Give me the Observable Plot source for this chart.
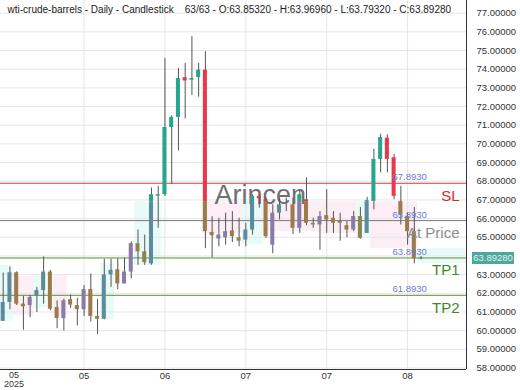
<!DOCTYPE html>
<html><head><meta charset="utf-8">
<script src="https://cdn.jsdelivr.net/npm/d3@7"></script>
<script src="https://cdn.jsdelivr.net/npm/@observablehq/plot@0.6"></script>
<style>
html,body{margin:0;padding:0;background:#fff;}
#chart{width:520px;height:390px;overflow:hidden;}
</style></head><body><div id="chart"></div>
<script>
// ---- data ----
const opens  = [60.50,61.51,63.10,61.42,61.34,61.88,62.15,63.14,61.24,60.65,61.66,61.34,61.12,62.20,60.76,60.61,62.99,63.26,62.50,63.14,64.66,64.22,63.58,67.20,67.28,70.88,71.42,73.55,73.41,73.55,73.95,65.26,64.90,64.97,65.34,64.97,64.85,65.39,67.19,67.01,64.58,66.29,66.80,66.74,65.48,67.01,65.75,65.66,66.16,66.02,65.84,65.62,65.39,66.11,65.21,66.92,69.17,70.31,69.26,66.92,66.11,65.30,63.8532];
const highs  = [63.08,63.41,63.15,61.84,61.88,62.32,63.95,63.23,61.60,61.69,61.91,61.73,62.42,63.04,61.66,63.82,63.82,63.85,63.89,64.75,65.39,65.12,67.64,67.73,74.58,71.51,74.04,74.31,75.75,74.31,74.94,66.10,66.02,66.29,66.38,66.02,65.75,67.28,67.28,67.10,66.74,67.10,67.10,67.10,67.46,68.18,66.02,66.38,67.55,66.38,66.29,65.84,66.38,66.59,67.14,69.71,70.52,70.49,69.44,67.73,66.29,66.59,63.9696];
const lows   = [60.49,61.12,61.35,60.02,60.70,60.97,61.42,61.07,60.11,59.98,61.19,60.25,60.76,60.47,59.80,60.58,62.32,62.20,62.50,62.77,63.50,63.50,63.50,65.48,67.19,67.82,69.62,71.34,72.59,72.50,64.39,63.90,64.49,64.58,64.72,64.49,64.49,65.12,66.56,64.94,64.12,65.93,66.38,65.15,65.21,65.62,65.48,64.31,65.21,65.21,64.79,64.97,65.30,64.90,65.21,66.47,68.45,68.45,67.01,65.66,64.58,63.58,63.7932];
const closes = [61.51,63.10,61.42,61.28,61.78,62.15,63.14,61.15,60.65,61.60,61.37,61.12,62.20,60.76,60.61,62.99,63.23,62.50,63.14,64.66,64.22,63.64,67.28,67.28,70.88,71.42,73.50,73.37,73.50,73.95,65.30,65.08,65.12,65.30,65.03,64.79,65.39,67.19,67.06,65.03,66.29,66.74,66.85,65.48,67.28,65.75,65.66,66.11,65.93,65.75,65.75,65.39,66.11,64.94,66.96,69.17,70.34,69.17,67.19,66.20,65.30,63.85,63.8928];
// zone tint under each bar: c = cyan zone, p = pink zone
const tones = "cc"+"ppp"+"cc"+"ppppppp"+"ccc"+"ppp"+"cccccccccc"+"ppppp"+"cccc"+"pp"+"cc"+"ppp"+"c"+"pppppp"+"cccccc"+"ppp"+"c";

// background zones (bar-index edges, price top/bottom, kind)
const zoneFrom   = [-0.5, 1.5, 4.5, 7.5, 14.5, 19.5, 29.5, 35.5, 38.5, 47.5, 52.5, 54.5, 61.5];
const zoneTo     = [ 1.5, 4.5, 6.5, 9.5, 16.5, 23.5, 35.5, 38.5, 47.5, 52.5, 54.5, 61.5, 68.7];
const zoneTop    = [63.5, 62.9,63.0, 63.0, 63.6, 66.9, 66.9, 66.9, 66.9, 66.9, 66.9, 66.9, 64.4];
const zoneBottom = [60.5, 60.8,61.2, 60.8, 60.6, 63.5, 65.2, 64.6, 65.3, 65.2, 65.0, 64.4, 63.6];
const zoneKind   = ["c","p","c","p","c","c","p","c","p","p","c","p","c"];

const xTickBars   = [0, 12, 24, 36, 48, 60];
const xTickLabels = ["05", "05", "06", "07", "07", "08"];
const yearLabel   = "2025";
const yTicks      = d3.range(58, 79);

const levelValues = [67.893, 65.893, 63.893, 61.893];
const levelNames  = ["SL", "At Price", "TP1", "TP2"];
const levelKinds  = ["sl", "price", "tp", "tp"];

const symbolName = "wti-crude-barrels";
const titleText = symbolName + " - Daily - Candlestick\u00a0\u00a0\u00a0 63/63 - O:63.85320 - H:63.96960 - L:63.79320 - C:63.89280";
const watermark = "Arincen";
const tintLevel = 66.9;

// ---- layout / styles ----
const xDomain = [-0.4, 68.74];
const yDomain = [57.92, 77.68];
const col = {
  up: "#26a68c", down: "#e8394a",
  upc: "#5d8b9c", upp: "#8a7aa6", downc: "#8a8450", downp: "#9c7a4a"
};
const zoneFill = {c: "#e9fbf9", p: "#fdeef6"};
const levelStroke = {sl: "#d43c3c", price: "#777777", tp: "#5a8f35"};
const levelText = {sl: "#d42a2a", price: "#8c8c8c", tp: "#3b8a1e"};

// ---- derived marks data ----
const zones = zoneFrom.map((f, i) => ({x1: f, x2: zoneTo[i], y1: zoneBottom[i], y2: zoneTop[i], k: zoneKind[i]}));
const wicks = [], bodies = [];
const MIN = 0.05;
opens.forEach((o, i) => {
  const h = highs[i], l = lows[i], c = closes[i];
  const up = c >= o;
  let top = Math.max(o, c), bot = Math.min(o, c);
  if (top - bot < MIN) { const m = (top + bot) / 2; top = m + MIN / 2; bot = m - MIN / 2; }
  wicks.push({i, y1: l, y2: h});
  const dir = up ? "up" : "down";
  if (top > tintLevel) bodies.push({i, y1: Math.max(bot, tintLevel), y2: top, k: dir});
  if (bot < tintLevel) bodies.push({i, y1: bot, y2: Math.min(top, tintLevel), k: dir + tones[i]});
});
const last = closes.slice(-1);
// axis labels hidden under the last-price box are left out, as in the reference
const yLabelTicks = yTicks.filter(t => Math.abs(t - last[0]) > 0.5);
const boxSymbol = {draw(ctx) { ctx.moveTo(-21, -6); ctx.lineTo(21, -6); ctx.lineTo(21, 6); ctx.lineTo(-21, 6); ctx.closePath(); }};

const chart = Plot.plot({
  width: 520, height: 390,
  marginLeft: 0, marginRight: 54, marginTop: 0, marginBottom: 21,
  x: {type: "linear", domain: xDomain, axis: null},
  y: {type: "linear", domain: yDomain, axis: null},
  color: {type: "identity"},
  style: {fontFamily: "'Liberation Sans', Arial, sans-serif", background: "#fff", color: "#333"},
  marks: [
    Plot.rect(zones, {x1: "x1", x2: "x2", y1: "y1", y2: "y2", fill: d => zoneFill[d.k]}),
    Plot.ruleY(yTicks, {y: d => d, stroke: "#e6e6e6", strokeWidth: 1}),
    Plot.ruleX(xTickBars.slice(1), {x: d => d, stroke: "#e6e6e6", strokeWidth: 1}),
    Plot.text([watermark], {frameAnchor: "top-left", dx: 214, dy: 203, textAnchor: "start", lineAnchor: "bottom", fontSize: 27, fill: "#707070"}),
    Plot.ruleY(levelValues, {y: d => d, stroke: (d, i) => levelStroke[levelKinds[i]], strokeWidth: 1}),
    Plot.ruleX(wicks, {x: "i", y1: "y1", y2: "y2", stroke: "#555", strokeWidth: 1}),
    Plot.rect(bodies, {x1: d => d.i - 0.3, x2: d => d.i + 0.3, y1: "y1", y2: "y2", fill: d => col[d.k]}),
    Plot.text(levelValues, {y: d => d, text: d => d.toFixed(4), frameAnchor: "right", dx: -74, dy: -6, textAnchor: "start", fontSize: 9.5, fill: "#6a7cd0"}),
    Plot.text(levelValues, {y: d => d, text: (d, i) => levelNames[i], frameAnchor: "right", dx: -7, dy: 12.5, textAnchor: "end", fontSize: 15, fill: (d, i) => levelText[levelKinds[i]]}),
    Plot.ruleX([xDomain[1]], {stroke: "#333", strokeWidth: 1}),
    Plot.ruleY([yDomain[0]], {stroke: "#333", strokeWidth: 1}),
    Plot.axisY({ticks: yLabelTicks, anchor: "right", tickSize: 0, tickPadding: 10, tickFormat: d => d.toFixed(5), fontSize: 9.5, label: null}),
    Plot.text(xTickBars.slice(1), {x: d => d, text: (d, i) => xTickLabels[i + 1], frameAnchor: "bottom", dy: 6, lineAnchor: "middle", fontSize: 9.5, fill: "#333"}),
    Plot.text(xTickBars.slice(0, 1), {x: d => d, text: (d, i) => xTickLabels[i] + "\n" + yearLabel, frameAnchor: "bottom", dx: 10.8, dy: 2, lineAnchor: "top", lineHeight: 1, fontSize: 9, fill: "#333"}),
    Plot.dot(last, {y: d => d, frameAnchor: "right", dx: 26.5, symbol: boxSymbol, fill: "#4ea79c", stroke: null}),
    Plot.text(last, {y: d => d, text: d => d.toFixed(5), frameAnchor: "right", dx: 26.5, textAnchor: "middle", fontSize: 9.5, fill: "#e3f2f0"}),
    Plot.text([titleText], {frameAnchor: "top-left", dx: 7, dy: 9, textAnchor: "start", lineAnchor: "middle", fontSize: 10, fill: "#222"})
  ]
});
document.getElementById("chart").appendChild(chart);
</script>
</body></html>
